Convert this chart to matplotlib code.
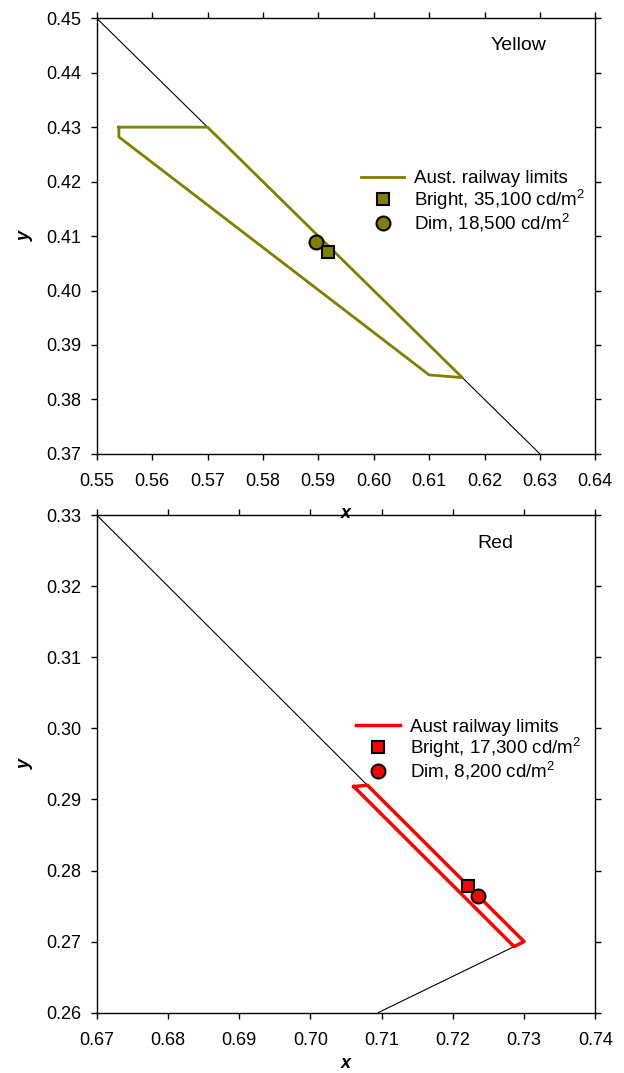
import numpy as np
import matplotlib.pyplot as plt

plt.rcParams['font.family'] = ['Liberation Sans', 'DejaVu Sans']
plt.rcParams['mathtext.fontset'] = 'custom'
plt.rcParams['mathtext.rm'] = 'Liberation Sans'
plt.rcParams['mathtext.it'] = 'Liberation Sans:italic'

# Yellow panel
yel_locus_x = [0.55, 0.63]
yel_locus_y = [0.45, 0.37]
yel_lim_x = [0.554, 0.570, 0.616, 0.610, 0.554, 0.554]
yel_lim_y = [0.430, 0.430, 0.384, 0.3845, 0.4282, 0.430]
yel_bright = (0.5918, 0.4070)
yel_dim = (0.5896, 0.4090)
yel_xticks = [0.55, 0.56, 0.57, 0.58, 0.59, 0.60, 0.61, 0.62, 0.63, 0.64]
yel_yticks = [0.37, 0.38, 0.39, 0.40, 0.41, 0.42, 0.43, 0.44, 0.45]

# Red panel
red_locus_x = [0.67, 0.708]
red_locus_y = [0.33, 0.292]
red_purple_x = [0.7286, 0.7095]
red_purple_y = [0.2693, 0.26]
red_lim_x = [0.7061, 0.708, 0.730, 0.7286, 0.7061]
red_lim_y = [0.2918, 0.292, 0.270, 0.2693, 0.2918]
red_bright = (0.7221, 0.2778)
red_dim = (0.7236, 0.2764)
red_xticks = [0.67, 0.68, 0.69, 0.70, 0.71, 0.72, 0.73, 0.74]
red_yticks = [0.26, 0.27, 0.28, 0.29, 0.30, 0.31, 0.32, 0.33]

olive = '#808000'
red = '#ff0000'

fig = plt.figure(figsize=(6.24, 10.73), dpi=100)
ax1 = fig.add_axes([0.155, 0.577, 0.799, 0.406])
ax2 = fig.add_axes([0.155, 0.0562, 0.799, 0.4638])
ax1.set_zorder(3)  # keep the top x label visible over the lower panel


def style(ax, xt, yt, xpad):
    ax.set_xlim(xt[0], xt[-1])
    ax.set_ylim(yt[0], yt[-1])
    ax.set_xticks(xt)
    ax.set_yticks(yt)
    ax.set_xticklabels(['%.2f' % v for v in xt])
    ax.set_yticklabels(['%.2f' % v for v in yt])
    ax.tick_params(direction='out', length=4, width=1, labelsize=13,
                   top=True, right=True)
    ax.tick_params(axis='x', pad=10)
    ax.tick_params(axis='y', pad=7)
    for s in ax.spines.values():
        s.set_linewidth(1)
    ax.set_xlabel('x', fontsize=13, fontweight='bold', fontstyle='italic', labelpad=xpad)
    ax.set_ylabel('y', fontsize=13, fontweight='bold', fontstyle='italic', labelpad=9)


leg_kw = dict(loc='upper left', frameon=False, fontsize=13.5, handlelength=2.3,
              labelspacing=0.0, handletextpad=0.55, borderaxespad=0)

ax1.plot(yel_locus_x, yel_locus_y, color='black', lw=0.8)
ax1.plot(yel_lim_x, yel_lim_y, color=olive, lw=2, label='Aust. railway limits')
ax1.plot(*yel_bright, 's', color=olive, mec='black', mew=1.5, ms=9,
         label=r'Bright, 35,100 cd/m$^2$')
ax1.plot(*yel_dim, 'o', color=olive, mec='black', mew=1.5, ms=10,
         label=r'Dim, 18,500 cd/m$^2$')
style(ax1, yel_xticks, yel_yticks, 10.5)
ax1.text(0.845, 0.938, 'Yellow', transform=ax1.transAxes, fontsize=14,
         ha='center', va='center')
ax1.legend(bbox_to_anchor=(0.515, 0.668), **leg_kw)

ax2.plot(red_locus_x, red_locus_y, color='black', lw=0.8)
ax2.plot(red_purple_x, red_purple_y, color='black', lw=0.8)
ax2.plot(red_lim_x, red_lim_y, color=red, lw=2.5, label='Aust railway limits')
ax2.plot(*red_bright, 's', color=red, mec='black', mew=1.5, ms=9,
         label=r'Bright, 17,300 cd/m$^2$')
ax2.plot(*red_dim, 'o', color=red, mec='black', mew=1.5, ms=10,
         label=r'Dim, 8,200 cd/m$^2$')
style(ax2, red_xticks, red_yticks, 4)
ax2.text(0.80, 0.943, 'Red', transform=ax2.transAxes, fontsize=14,
         ha='center', va='center')
ax2.legend(bbox_to_anchor=(0.506, 0.606), **leg_kw)

fig.savefig('out.png', dpi=100)
